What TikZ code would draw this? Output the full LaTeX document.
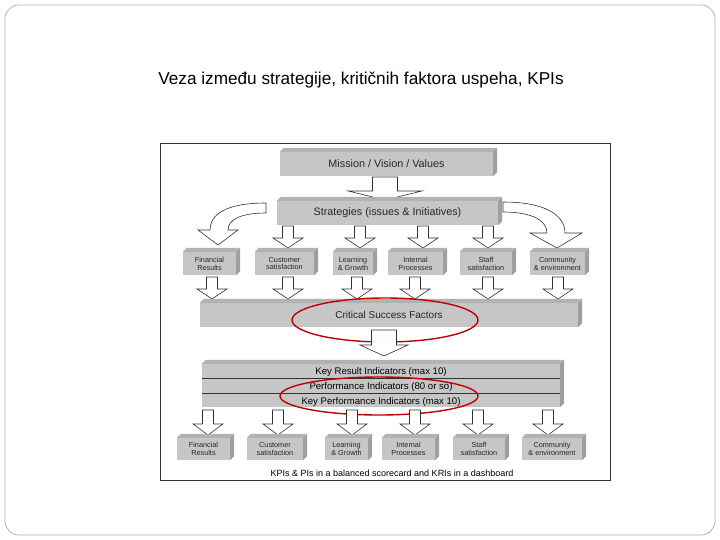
\documentclass[tikz,border=0pt]{standalone}
\usepackage{fontspec}
\setmainfont{Liberation Sans}
\begin{document}
\begin{tikzpicture}[x=1pt,y=-1pt,
  face/.style={fill=gray!45,draw=none,inner sep=0pt,font=\fontsize{7.3}{7.8}\selectfont,align=center,text=black!85},
  topf/.style={fill=gray!60},
  sidef/.style={fill=gray!75},
  harrow/.style={draw=black!80,fill=white,line width=0.6pt,line join=miter},
  ring/.style={draw=red!75!black,line width=1.4pt}]
\useasboundingbox (0,0) rectangle (720,540);
\draw[gray!60,rounded corners=14pt,line width=0.8pt] (5,5) rectangle (715,535);
\node (title) at (361,80) {\fontsize{17.2}{20}\selectfont Veza između strategije, kritičnih faktora uspeha, KPIs};
\draw[black!80,line width=0.8pt] (160,143) rectangle (610,480);
\newcommand\bbox[6]{%
  \node[face,minimum width=#4-#2,minimum height=#5-#3] (#1) at ({(#2+#4)/2},{(#3+#5)/2}) {#6};
  \fill[topf] (#1.north west) -- ++(4,-4) -- ([shift={(4,-4)}]#1.north east) -- (#1.north east) -- cycle;
  \fill[sidef] (#1.north east) -- ++(4,-4) -- ([shift={(4,-4)}]#1.south east) -- (#1.south east) -- cycle;}
\newcommand\harr[6]{% x, ytop, shaftlen, headlen, shaftw, headw
  \draw[harrow] ({#1-#5/2},#2) -- ({#1+#5/2},#2) -- ({#1+#5/2},{#2+#3}) -- ({#1+#6/2},{#2+#3}) -- (#1,{#2+#3+#4}) -- ({#1-#6/2},{#2+#3}) -- ({#1-#5/2},{#2+#3}) -- cycle;}
% top boxes
\bbox{mission}{280}{152}{493}{176}{\fontsize{10.8}{12}\selectfont Mission / Vision / Values}
\harr{385}{177}{14}{9}{25}{74}
\bbox{strat}{277}{201}{498}{225}{\fontsize{10.8}{12}\selectfont Strategies (issues \& Initiatives)}
% curved arrows
\draw[harrow] (266,203) .. controls (225,203) and (210,215) .. (210,230) -- (198,230) -- (218,245) -- (238,230) -- (228,230) .. controls (228,220) and (240,213) .. (266,213) -- cycle;
\draw[harrow] (503,202) .. controls (545,202) and (565,215) .. (565,233) -- (582,233) -- (557,248) -- (530,233) -- (547,233) .. controls (547,222) and (535,212) .. (503,212) -- cycle;
\foreach \x in {288,360,423,488}{\harr{\x}{226}{12}{10}{11}{30}}
% row 1 boxes
\bbox{fin1}{183}{252}{236}{275}{Financial\\Results}
\bbox{cus1}{255}{252}{314}{275}{Customer\\satisfaction}
\bbox{lea1}{333}{252}{373}{275}{Learning\\\& Growth}
\bbox{int1}{388}{252}{443}{275}{Internal\\Processes}
\bbox{sta1}{460}{252}{512}{275}{Staff\\satisfaction}
\bbox{com1}{530}{252}{585}{275}{Community\\\& environment}
\foreach \x in {212,288,357,415,488,558}{\harr{\x}{277}{12}{10}{11}{30}}
% CSF
\bbox{csf}{200}{303}{578}{327}{\fontsize{10}{11}\selectfont Critical Success Factors}
\draw[ring] (385,320) ellipse [x radius=93,y radius=22];
\harr{384}{330}{15}{11}{25}{48}
% KRI stack
\bbox{kri}{202}{364}{560}{407}{}
\draw[black!80,line width=0.6pt] (202,378) -- (560,378) (202,393) -- (560,393);
\node (kr) at (381,372) {\fontsize{9.6}{10}\selectfont Key Result Indicators (max 10)};
\node (pi) at (381,387) {\fontsize{9.6}{10}\selectfont Performance Indicators (80 or so)};
\node (kp) at (381,402) {\fontsize{9.6}{10}\selectfont Key Performance Indicators (max 10)};
\draw[ring] (379,396) ellipse [x radius=99,y radius=19];
\foreach \x in {208,278,352,415,478,548}{\harr{\x}{410}{14}{11}{11}{30}}
% row 2 boxes
\bbox{fin2}{177}{438}{230}{460}{Financial\\Results}
\bbox{cus2}{247}{438}{303}{460}{Customer\\satisfaction}
\bbox{lea2}{325}{438}{368}{460}{Learning\\\& Growth}
\bbox{int2}{382}{438}{435}{460}{Internal\\Processes}
\bbox{sta2}{453}{438}{505}{460}{Staff\\satisfaction}
\bbox{com2}{522}{438}{582}{460}{Community\\\& environment}
\node (cap) at (392,473) {\fontsize{9}{10}\selectfont KPIs \& PIs in a balanced scorecard and KRIs in a dashboard};
\end{tikzpicture}
\end{document}
